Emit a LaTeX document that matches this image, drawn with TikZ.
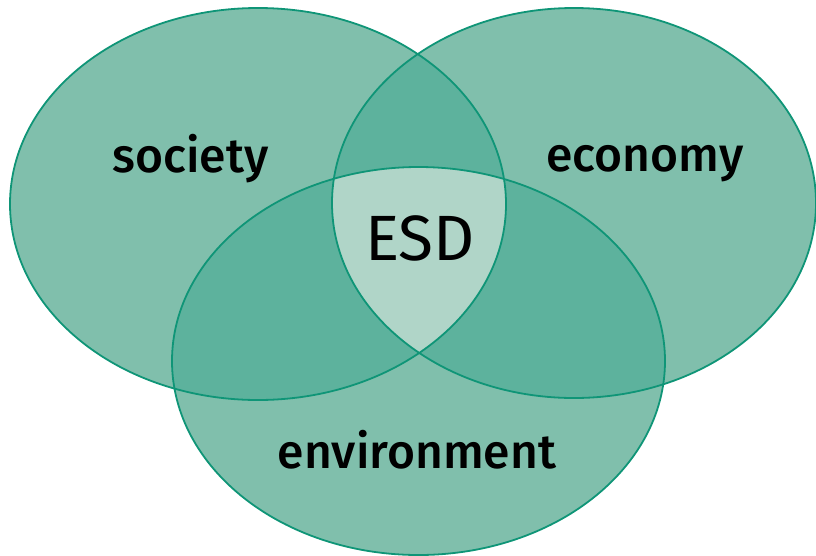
\documentclass[tikz,border=0pt]{standalone}
\usepackage{fontspec}
\setmainfont{Fira Sans}[BoldFont={Fira Sans Medium}]
\definecolor{one}{HTML}{80BFAC}
\definecolor{two}{HTML}{5DB29D}
\definecolor{three}{HTML}{B0D5C8}
\definecolor{edge}{HTML}{0F9577}
\begin{document}
\begin{tikzpicture}[x=1pt,y=-1pt,
  lbl/.style={font=\fontsize{48}{50}\selectfont\bfseries, text=black, anchor=base},
  esd/.style={font=\fontsize{64}{66}\selectfont, text=black, anchor=base},
  ring/.style={draw=edge, line width=1.8pt}]
\useasboundingbox (0,0) rectangle (816,555);
\def\soc{(258,204) ellipse [x radius=248, y radius=196]}
\def\eco{(574,203) ellipse [x radius=242, y radius=195]}
\def\env{(418.5,361) ellipse [x radius=246.5, y radius=194]}
% base fills
\fill[one] \soc; \fill[one] \eco; \fill[one] \env;
% pairwise
\begin{scope}\clip \soc; \fill[two] \eco; \fill[two] \env; \end{scope}
\begin{scope}\clip \eco; \fill[two] \env; \end{scope}
% triple
\begin{scope}\clip \soc; \clip \eco; \fill[three] \env; \end{scope}
% outlines
\draw[ring] \soc; \draw[ring] \eco; \draw[ring] \env;
\node[lbl] (society) at (190.5,172) {society};
\node[lbl] (economy) at (645,171) {economy};
\node[lbl] (environment) at (417,468) {environment};
\node[esd] (esd) at (420,260) {ESD};
\end{tikzpicture}
\end{document}
